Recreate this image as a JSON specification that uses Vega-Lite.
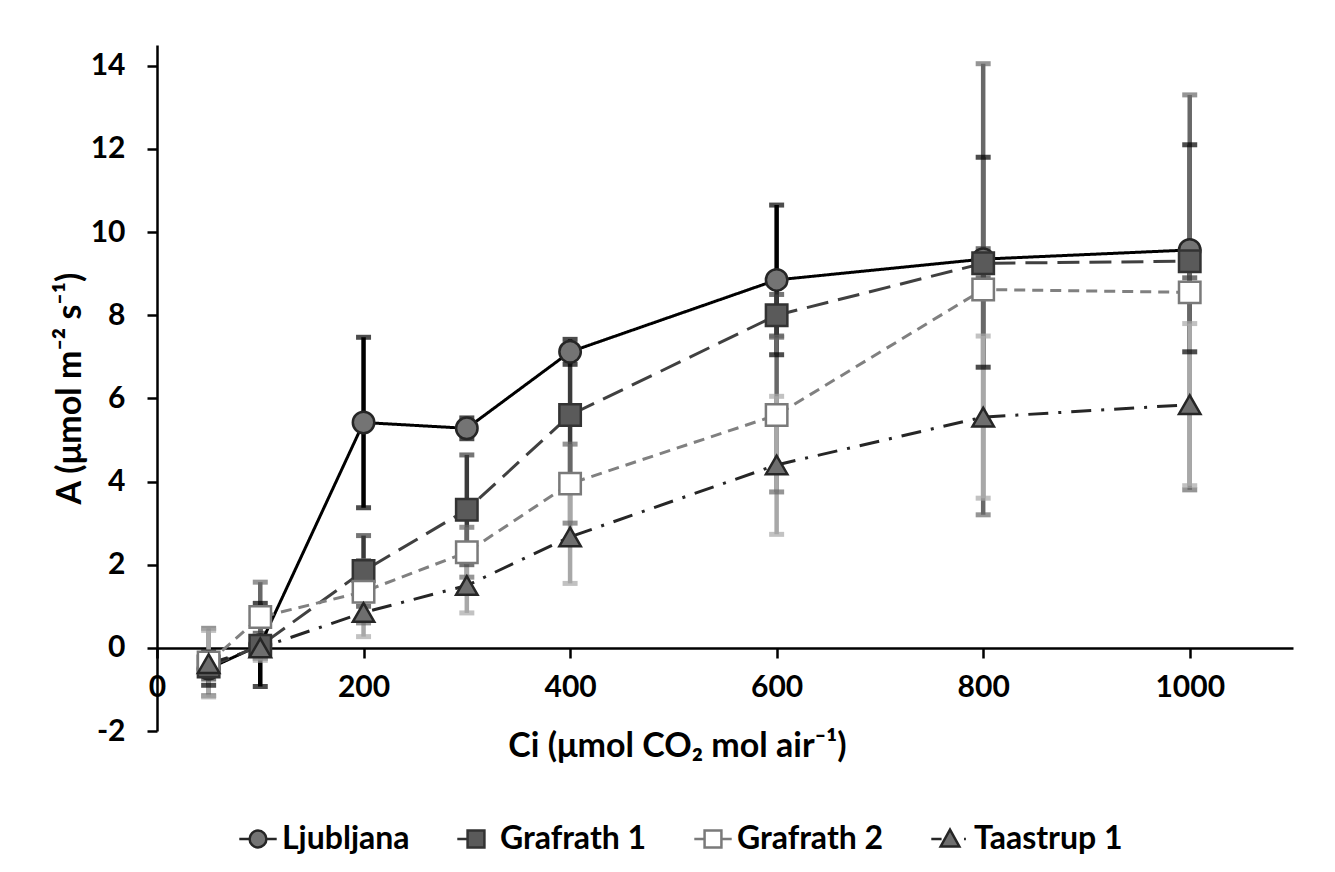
{
  "$schema": "https://vega.github.io/schema/vega-lite/v6.json",
  "autosize": {"type": "none"},
  "padding": {"left": 157, "top": 45, "right": 42, "bottom": 141},
  "width": 1136,
  "height": 686,
  "background": "white",
  "config": {
    "font": "Lato",
    "view": {"stroke": null},
    "axis": {"grid": false, "domainColor": "black", "domainWidth": 2.5, "tickColor": "black", "tickWidth": 2.5, "tickSize": 10, "labelFont": "Lato", "labelFontSize": 30, "labelFontWeight": "bold", "labelColor": "black", "titleFont": "Lato", "titleFontSize": 34, "titleFontWeight": "bold", "titleColor": "black"}
  },
  "data": {
    "values": [
      {"series": "Ljubljana", "ci": 50, "A": -0.5, "lo": -0.9, "hi": -0.1},
      {"series": "Ljubljana", "ci": 100, "A": 0.07, "lo": -0.93, "hi": 1.07},
      {"series": "Ljubljana", "ci": 200, "A": 5.42, "lo": 3.37, "hi": 7.47},
      {"series": "Ljubljana", "ci": 300, "A": 5.28, "lo": 5.03, "hi": 5.53},
      {"series": "Ljubljana", "ci": 400, "A": 7.12, "lo": 6.82, "hi": 7.42},
      {"series": "Ljubljana", "ci": 600, "A": 8.85, "lo": 7.05, "hi": 10.65},
      {"series": "Ljubljana", "ci": 800, "A": 9.35, "lo": 6.75, "hi": 11.8},
      {"series": "Ljubljana", "ci": 1000, "A": 9.57, "lo": 7.12, "hi": 12.1},
      {"series": "Grafrath 1", "ci": 50, "A": -0.45, "lo": -0.75, "hi": -0.15},
      {"series": "Grafrath 1", "ci": 100, "A": 0.05, "lo": -0.25, "hi": 0.35},
      {"series": "Grafrath 1", "ci": 200, "A": 1.85, "lo": 1.0, "hi": 2.7},
      {"series": "Grafrath 1", "ci": 300, "A": 3.32, "lo": 2.0, "hi": 4.64},
      {"series": "Grafrath 1", "ci": 400, "A": 5.6, "lo": 4.1, "hi": 7.1},
      {"series": "Grafrath 1", "ci": 600, "A": 8.0, "lo": 7.5, "hi": 8.5},
      {"series": "Grafrath 1", "ci": 800, "A": 9.25, "lo": 8.9, "hi": 9.6},
      {"series": "Grafrath 1", "ci": 1000, "A": 9.3, "lo": 8.9, "hi": 9.7},
      {"series": "Grafrath 2", "ci": 50, "A": -0.35, "lo": -1.15, "hi": 0.47},
      {"series": "Grafrath 2", "ci": 100, "A": 0.74, "lo": -0.1, "hi": 1.58},
      {"series": "Grafrath 2", "ci": 200, "A": 1.35, "lo": 0.6, "hi": 2.1},
      {"series": "Grafrath 2", "ci": 300, "A": 2.3, "lo": 1.7, "hi": 2.9},
      {"series": "Grafrath 2", "ci": 400, "A": 3.95, "lo": 3.0, "hi": 4.9},
      {"series": "Grafrath 2", "ci": 600, "A": 5.6, "lo": 3.75, "hi": 7.47},
      {"series": "Grafrath 2", "ci": 800, "A": 8.62, "lo": 3.2, "hi": 14.05},
      {"series": "Grafrath 2", "ci": 1000, "A": 8.55, "lo": 3.8, "hi": 13.3},
      {"series": "Taastrup 1", "ci": 50, "A": -0.38, "lo": -1.18, "hi": 0.42},
      {"series": "Taastrup 1", "ci": 100, "A": 0.0, "lo": -0.3, "hi": 0.3},
      {"series": "Taastrup 1", "ci": 200, "A": 0.85, "lo": 0.27, "hi": 1.43},
      {"series": "Taastrup 1", "ci": 300, "A": 1.5, "lo": 0.84, "hi": 2.16},
      {"series": "Taastrup 1", "ci": 400, "A": 2.67, "lo": 1.55, "hi": 3.79},
      {"series": "Taastrup 1", "ci": 600, "A": 4.4, "lo": 2.73, "hi": 6.05},
      {"series": "Taastrup 1", "ci": 800, "A": 5.55, "lo": 3.6, "hi": 7.5},
      {"series": "Taastrup 1", "ci": 1000, "A": 5.85, "lo": 3.9, "hi": 7.8}
    ]
  },
  "encoding": {
    "x": {"field": "ci", "type": "quantitative", "scale": {"domain": [0, 1100], "nice": false, "zero": false},
      "axis": {"values": [0, 200, 400, 600, 800, 1000], "format": "d", "labelFlush": false, "offset": -83, "labelPadding": 14, "title": "Ci (μmol CO₂ mol air⁻¹)", "titlePadding": 27, "titleX": 520}}
  },
  "layer": [
    {
      "mark": {"type": "rule", "strokeWidth": 4.5},
      "encoding": {
        "y": {"field": "lo", "type": "quantitative", "scale": {"domain": [-2, 14.5], "nice": false, "zero": false},
          "axis": {"values": [-2, 0, 2, 4, 6, 8, 10, 12, 14], "labelExpr": "datum.value + ''", "labelPadding": 22, "title": "A (μmol m⁻² s⁻¹)", "titlePadding": 3}},
        "y2": {"field": "hi"},
        "stroke": {"field": "series", "type": "nominal", "scale": {"domain": ["Ljubljana", "Grafrath 1", "Grafrath 2", "Taastrup 1"], "range": ["#000000", "#3a3a3a", "#686868", "#a8a8a8"]}, "legend": null}
      }
    },
    {
      "mark": {"type": "tick", "orient": "horizontal", "size": 15, "thickness": 5},
      "encoding": {
        "y": {"field": "lo", "type": "quantitative"},
        "fill": {"field": "series", "type": "nominal", "scale": {"domain": ["Ljubljana", "Grafrath 1", "Grafrath 2", "Taastrup 1"], "range": ["#000000", "#3a3a3a", "#686868", "#a8a8a8"]}, "legend": null}
      }
    },
    {
      "mark": {"type": "tick", "orient": "horizontal", "size": 15, "thickness": 5},
      "encoding": {
        "y": {"field": "hi", "type": "quantitative"},
        "fill": {"field": "series", "type": "nominal", "scale": {"domain": ["Ljubljana", "Grafrath 1", "Grafrath 2", "Taastrup 1"], "range": ["#000000", "#3a3a3a", "#686868", "#a8a8a8"]}, "legend": null}
      }
    },
    {
      "mark": {"type": "line", "strokeWidth": 3},
      "encoding": {
        "y": {"field": "A", "type": "quantitative"},
        "stroke": {"field": "series", "type": "nominal", "scale": {"domain": ["Ljubljana", "Grafrath 1", "Grafrath 2", "Taastrup 1"], "range": ["#000000", "#404040", "#808080", "#262626"]}, "legend": null},
        "strokeDash": {"field": "series", "type": "nominal", "scale": {"domain": ["Ljubljana", "Grafrath 1", "Grafrath 2", "Taastrup 1"], "range": [[1, 0], [22, 10], [11, 7], [20, 10, 3, 10]]}, "legend": null}
      }
    },
    {
      "mark": {"type": "point", "filled": true, "size": 460, "strokeWidth": 2.5, "opacity": 1},
      "encoding": {
        "y": {"field": "A", "type": "quantitative"},
        "fill": {"field": "series", "type": "nominal", "scale": {"domain": ["Ljubljana", "Grafrath 1", "Grafrath 2", "Taastrup 1"], "range": ["#747474", "#5a5a5a", "#ffffff", "#6e6e6e"]}, "legend": null},
        "stroke": {"field": "series", "type": "nominal", "scale": {"domain": ["Ljubljana", "Grafrath 1", "Grafrath 2", "Taastrup 1"], "range": ["#262626", "#333333", "#7a7a7a", "#262626"]}, "legend": null},
        "shape": {"field": "series", "type": "nominal", "scale": {"domain": ["Ljubljana", "Grafrath 1", "Grafrath 2", "Taastrup 1"], "range": ["circle", "square", "square", "triangle-up"]}, "legend": null}
      }
    },
    {
      "mark": {"type": "point", "filled": true, "size": 0, "strokeWidth": 2.5, "opacity": 1},
      "encoding": {
        "y": {"field": "A", "type": "quantitative"},
        "fill": {"field": "series", "type": "nominal", "scale": {"domain": ["Ljubljana", "Grafrath 1", "Grafrath 2", "Taastrup 1"], "range": ["#747474", "#5a5a5a", "#ffffff", "#6e6e6e"]},
          "legend": {"orient": "none", "legendX": 81, "legendY": 774, "direction": "horizontal", "title": null, "padding": 0, "symbolSize": 1400, "symbolStrokeWidth": 2.5, "labelFont": "Lato", "labelFontSize": 32, "labelFontWeight": "bold", "labelColor": "black", "columnPadding": 42, "labelOffset": 4}},
        "stroke": {"field": "series", "type": "nominal", "scale": {"domain": ["Ljubljana", "Grafrath 1", "Grafrath 2", "Taastrup 1"], "range": ["#262626", "#333333", "#7a7a7a", "#262626"]},
          "legend": {"orient": "none", "legendX": 81, "legendY": 774, "direction": "horizontal", "title": null, "padding": 0, "symbolSize": 1400, "symbolStrokeWidth": 2.5, "labelFont": "Lato", "labelFontSize": 32, "labelFontWeight": "bold", "labelColor": "black", "columnPadding": 42, "labelOffset": 4}},
        "shape": {"field": "series", "type": "nominal", "scale": {"domain": ["Ljubljana", "Grafrath 1", "Grafrath 2", "Taastrup 1"], "range": [
            "M -1 0 H -0.45 M 0.45 0 H 1 M 0.45 0 A 0.45 0.45 0 1 1 -0.45 0 A 0.45 0.45 0 1 1 0.45 0 Z",
            "M -1 0 H -0.45 M -0.45 -0.45 H 0.45 V 0.45 H -0.45 Z",
            "M -1 0 H -0.45 M 0.45 0 H 1 M -0.45 -0.45 H 0.45 V 0.45 H -0.45 Z",
            "M -1 0 H -0.45 M 0.75 0 H 0.85 M 0 -0.5 L 0.5 0.4 L -0.5 0.4 Z"]},
          "legend": {"orient": "none", "legendX": 81, "legendY": 774, "direction": "horizontal", "title": null, "padding": 0, "symbolSize": 1400, "symbolStrokeWidth": 2.5, "labelFont": "Lato", "labelFontSize": 32, "labelFontWeight": "bold", "labelColor": "black", "columnPadding": 42, "labelOffset": 4}}
      }
    }
  ],
  "resolve": {"scale": {"stroke": "independent", "fill": "independent", "shape": "independent"}}
}
